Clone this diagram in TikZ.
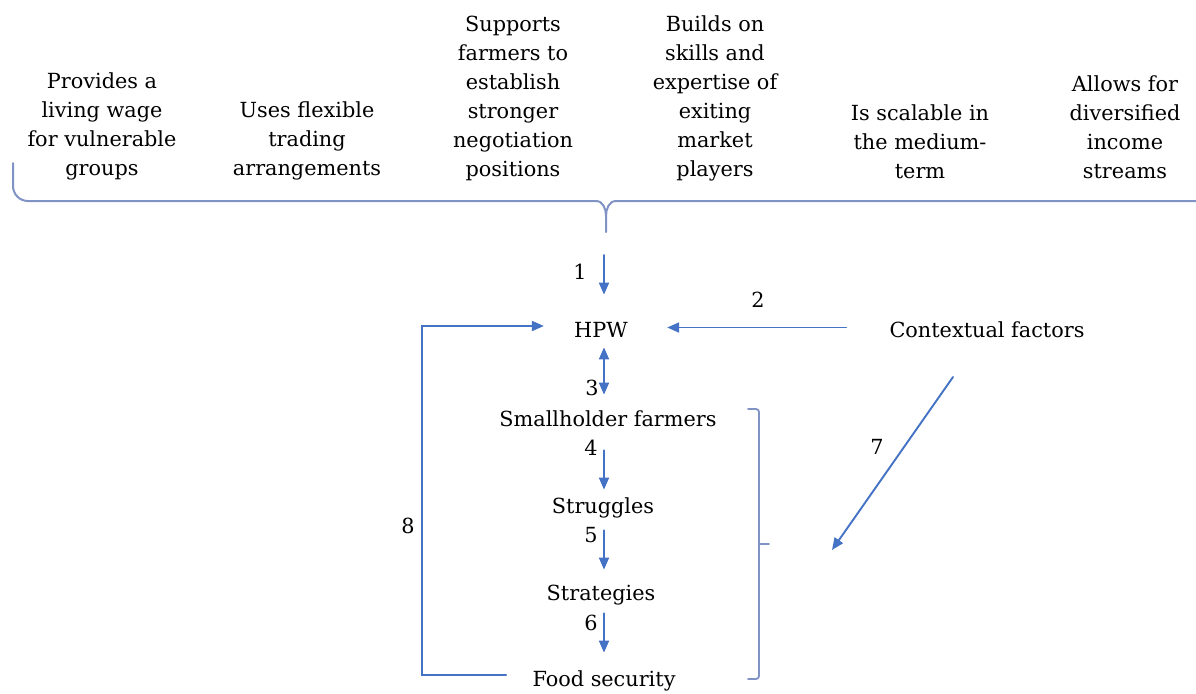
\documentclass[tikz,border=0pt]{standalone}
\usepackage{fontspec}
\setmainfont{DejaVu Serif}
\usepackage{xcolor}
\usepackage{tikz}
\usetikzlibrary{arrows.meta, calc}
\definecolor{wordBlue}{HTML}{4472C4}
\definecolor{braceBlue}{HTML}{8093C4}

\begin{document}
\begin{tikzpicture}[x=0.5pt, y=-0.5pt, style={line cap=round},
  >={Triangle[length=6pt, width=5pt]},
  txt/.style={font=\fontsize{10.4pt}{14.5pt}\selectfont, inner sep=0pt, align=center},
  stage/.style={txt, text height=8pt, text depth=2.5pt, anchor=base},
  flow/.style={wordBlue, line width=0.95pt, ->},
  rim/.style={braceBlue, line width=1pt}]
  \useasboundingbox (0,0) rectangle (1196,693);
  % qualities along the top
  \node[txt] (wage) at (102,126) {Provides a\\living wage\\for vulnerable\\groups};
  \node[txt] (trading) at (307,141) {Uses flexible\\trading\\arrangements};
  \node[txt] (nego) at (513,98) {Supports\\farmers to\\establish\\stronger\\negotiation\\positions};
  \node[txt] (skills) at (715,98) {Builds on\\skills and\\expertise of\\exiting\\market\\players};
  \node[txt] (scale) at (920,142) {Is scalable in\\the medium-\\term};
  \node[txt] (income) at (1125,127) {Allows for\\diversified\\income\\streams};
  % brace
  \draw[rim] (13,163) -- (13,186) to[out=-90, in=180] (28,201) -- (596,201)
    to[out=0, in=90] (606,216) -- (606,232);
  \draw[rim] (606,216) to[out=90, in=180] (616,201) -- (1200,201);
  % stages
  \node[stage] (hpw) at (601,337) {HPW};
  \node[stage] (context) at (987,337) {Contextual factors};
  \node[stage] (farmers) at (608,426) {Smallholder farmers};
  \node[stage] (struggles) at (603,513) {Struggles};
  \node[stage] (strategies) at (601,600) {Strategies};
  \node[stage] (food) at (604,686) {Food security};
  \coordinate (spine) at (604,255);
  \coordinate (loop) at (422,500);
  \coordinate (c7s) at (953,377);
  \coordinate (c7e) at (832,550);
  % arrows
  \draw[flow, shorten >=13pt] (spine) -- (spine |- hpw.north);
  \draw[flow, shorten <=21.5pt, shorten >=19.5pt] ([yshift=2pt]context.west) -- ([yshift=2pt]hpw.east);
  \draw[flow, <->, shorten <=2.5pt, shorten >=7.5pt] (spine |- hpw.south) -- (spine |- farmers.north);
  \draw[flow, shorten <=9.5pt, shorten >=3.5pt] (spine |- farmers.south) -- (spine |- struggles.north);
  \draw[flow, shorten <=6pt, shorten >=7pt] (spine |- struggles.south) -- (spine |- strategies.north);
  \draw[flow, shorten <=4pt, shorten >=8.5pt] (spine |- strategies.south) -- (spine |- food.north);
  \draw[flow] (c7s) -- (c7e);
  \draw[flow, shorten <=13pt, shorten >=15pt] ([yshift=2.75pt]food.west) -| (loop) |- ([yshift=2.75pt]hpw.west);
  % bracket round the farm stages
  \draw[rim, line width=0.9pt, rounded corners=1.5pt] (748,409) -- (759,409) -- (759,679) -- (748,679);
  \draw[rim, line width=0.9pt] (759,544) -- (769,544);
  % numbers
  \node[txt] (n1) at (580,272) {1};
  \node[txt] (n2) at (758,300) {2};
  \node[txt] (n3) at (592,388) {3};
  \node[txt] (n4) at (591,448) {4};
  \node[txt] (n5) at (591,535) {5};
  \node[txt] (n6) at (591,623) {6};
  \node[txt] (n7) at (877,447) {7};
  \node[txt] (n8) at (408,526) {8};
\end{tikzpicture}
\end{document}
